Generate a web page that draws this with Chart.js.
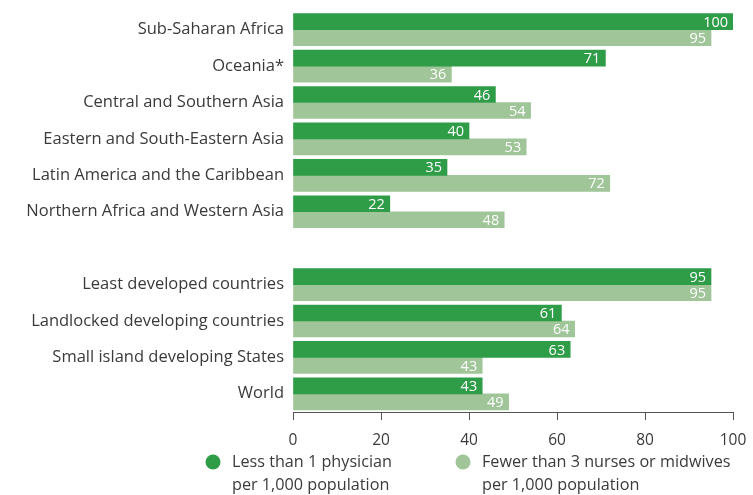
<!DOCTYPE html>
<html>
<head>
<meta charset="utf-8">
<script src="https://cdn.jsdelivr.net/npm/chart.js@4.4.1/dist/chart.umd.min.js"></script>
<style>
  html, body { margin: 0; padding: 0; background: #fff; }
  #wrap { width: 753px; height: 495px; position: relative; }
</style>
</head>
<body>
<div id="wrap"><canvas id="chart"></canvas></div>
<script>
// categories (empty string = spacer between the two groups)
var categories = [
    'Sub-Saharan Africa',
    'Oceania*',
    'Central and Southern Asia',
    'Eastern and South-Eastern Asia',
    'Latin America and the Caribbean',
    'Northern Africa and Western Asia',
    '',
    'Least developed countries',
    'Landlocked developing countries',
    'Small island developing States',
    'World'
];
var physicians = [100, 71, 46, 40, 35, 22, null, 95, 61, 63, 43];
var nurses = [95, 36, 54, 53, 72, 48, null, 95, 64, 43, 49];
var xTicks = [0, 20, 40, 60, 80, 100];
var legendLines = [
    ['Less than 1 physician', 'per 1,000 population'],
    ['Fewer than 3 nurses or midwives', 'per 1,000 population']
];

var darkGreen = '#2f9c48';
var lightGreen = '#9fc598';
var textColor = '#3a3a3a';
var fontFamily = '"Open Sans", "Noto Sans", sans-serif';

Chart.defaults.font.family = fontFamily;
Chart.defaults.color = textColor;

// white value labels inside the end of every bar
var valueLabels = {
    id: 'valueLabels',
    afterDatasetsDraw: function(chart) {
        var ctx = chart.ctx;
        ctx.save();
        ctx.fillStyle = '#ffffff';
        ctx.font = '14.5px ' + fontFamily;
        ctx.textAlign = 'right';
        ctx.textBaseline = 'middle';
        chart.data.datasets.forEach(function(ds, i) {
            chart.getDatasetMeta(i).data.forEach(function(bar, j) {
                var v = ds.data[j];
                if (v === null) return;
                ctx.fillText(String(v), bar.x - 5, bar.y + 1);
            });
        });
        ctx.restore();
    }
};

// two-line legend with round markers under the axis
var bottomLegend = {
    id: 'bottomLegend',
    afterDraw: function(chart) {
        var ctx = chart.ctx;
        var starts = [205, 455];
        var top = 462;
        ctx.save();
        ctx.font = '16.2px ' + fontFamily;
        ctx.textAlign = 'left';
        ctx.textBaseline = 'middle';
        chart.data.datasets.forEach(function(ds, i) {
            var x = starts[i];
            ctx.fillStyle = ds.backgroundColor;
            ctx.beginPath();
            ctx.arc(x + 8, top, 7.5, 0, Math.PI * 2);
            ctx.fill();
            ctx.fillStyle = textColor;
            legendLines[i].forEach(function(line, k) {
                ctx.fillText(line, x + 27, top + k * 23);
            });
        });
        ctx.restore();
    }
};

var ctx = document.getElementById('chart').getContext('2d');
var chart = new Chart(ctx, {
    type: 'bar',
    data: {
        labels: categories,
        datasets: [{
            label: 'Less than 1 physician per 1,000 population',
            data: physicians,
            backgroundColor: darkGreen,
            barThickness: 16
        }, {
            label: 'Fewer than 3 nurses or midwives per 1,000 population',
            data: nurses,
            backgroundColor: lightGreen,
            barThickness: 16
        }]
    },
    options: {
        indexAxis: 'y',
        responsive: true,
        maintainAspectRatio: false,
        animation: false,
        layout: {
            padding: { top: 11.5, right: 20, bottom: 48, left: 0 }
        },
        plugins: {
            legend: { display: false },
            tooltip: { enabled: false }
        },
        scales: {
            x: {
                min: 0,
                max: 100,
                afterBuildTicks: function(scale) {
                    scale.ticks = xTicks.map(function(v) { return { value: v }; });
                },
                afterFit: function(scale) {
                    scale.height = 35;
                    scale.paddingLeft = 0;
                    scale.paddingRight = 0;
                },
                grid: {
                    drawOnChartArea: false,
                    drawTicks: true,
                    tickLength: 8,
                    color: '#555'
                },
                border: { display: true, color: '#555', width: 1 },
                ticks: {
                    padding: 11,
                    font: { size: 15.5 },
                    color: textColor
                }
            },
            y: {
                afterFit: function(scale) {
                    scale.width = 293;
                    scale.paddingTop = 0;
                    scale.paddingBottom = 0;
                },
                grid: { display: false, drawTicks: false },
                border: { display: false },
                ticks: {
                    padding: 9,
                    font: { size: 16.5 },
                    color: textColor,
                    autoSkip: false
                }
            }
        }
    },
    plugins: [valueLabels, bottomLegend]
});
</script>
</body>
</html>
